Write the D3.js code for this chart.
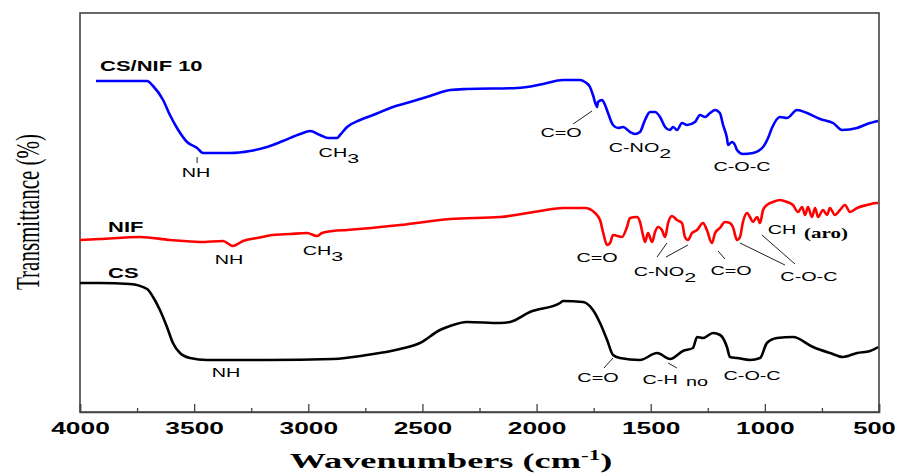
<!DOCTYPE html>
<html>
<head>
<meta charset="utf-8">
<script src="https://cdn.jsdelivr.net/npm/d3@7"></script>
<style>
  body { margin: 0; background: #fff; }
  text { fill: #000; }
</style>
</head>
<body>
<div id="chart"></div>
<script>
// CS/NIF 10 (blue)
var blendWn = [3930,3706,3680,3636,3606,3575,3531,3487,3461,3343,3255,3181,3111,3036,2992,2949,2914,2874,2861,2830,2773,2716,2629,2554,2467,2379,2305,2086,1972,1884,1810,1788,1766,1753,1735,1731,1713,1700,1687,1665,1643,1621,1591,1569,1547,1525,1503,1481,1459,1437,1416,1402,1385,1363,1341,1306,1284,1262,1240,1218,1197,1183,1166,1161,1144,1131,1122,1096,1052,1008,986,969,934,903,859,815,758,701,662,596,552,504];
var blendT = [331,331,326,312,297,284,270,264,259,259,261,265,271,278,281,277,274,274,277,285,292,297,305,310,316,322,323,324,328,332,332,330,325,317,305,310,312,307,299,287,284,285,280,278,280,292,300,300,295,285,282,285,282,289,287,290,297,295,299,302,299,287,274,267,270,267,262,258,259,265,274,284,295,294,302,299,293,289,282,284,288,291];

// NIF (red)
var nifWn = [4000,3912,3737,3606,3474,3374,3330,3286,3225,3155,3080,3006,2962,2940,2892,2830,2598,2379,2160,1985,1884,1788,1744,1722,1709,1691,1678,1665,1626,1604,1591,1560,1547,1534,1525,1512,1494,1481,1468,1451,1437,1424,1407,1385,1363,1350,1337,1319,1297,1271,1254,1232,1218,1197,1175,1153,1140,1122,1109,1096,1078,1065,1052,1034,1021,1008,991,964,934,903,877,855,837,824,811,794,780,767,745,728,715,693,671,649,627,596,553,509,504];
var nifT = [172,173,175,172,170,171,166,171,174,177,178,179,176,179,181,182,187,193,195,201,204,204,199,192,180,167,169,177,175,185,194,195,190,177,170,179,170,180,185,182,175,189,196,192,189,175,172,179,182,189,182,169,179,184,190,189,185,172,175,190,199,195,190,195,189,202,207,210,212,210,207,200,205,197,205,195,204,195,202,197,204,197,202,207,200,204,207,209,209];

// CS (black)
var csWn = [4000,3912,3781,3706,3680,3650,3619,3593,3562,3518,3444,3181,2892,2743,2598,2511,2423,2379,2305,2160,2116,2029,1897,1884,1797,1753,1722,1691,1665,1635,1547,1472,1415,1359,1315,1297,1271,1227,1196,1166,1153,1122,1065,1021,991,947,877,789,715,658,596,539,504];
var csT = [129,129,128,123,115,102,85,69,59,54,52,52,53,57,63,69,82,86,90,89,90,100,109,111,110,102,89,72,57,54,52,59,53,61,64,75,74,79,77,65,55,54,52,54,69,74,75,65,59,55,59,61,65];

var majorTicks = [4000,3500,3000,2500,2000,1500,1000,500];
var minorTicks = [3750,3250,2750,2250,1750,1250,750];

// series names: [label, wn, T]
var seriesLabels = [["CS/NIF 10",3912,346],["NIF",3877,185],["CS",3877,139]];

// peak assignments: [text, wn, T]  ("_" = subscript)
var blendNotes = [["NH",3492,239],["CH_3",2866,259],["C=O",1893,279],["C-NO_2",1547,264],["C-O-C",1100,245]];
var nifNotes = [["NH",3347,152],["CH_3",2936,161],["C=O",1735,154],["C-NO_2",1438,140],["C=O",1148,141],["C-O-C",807,135],["CH",925,182]];
var csNotes = [["NH",3360,39],["C=O",1731,34],["C-H",1459,32],["no",1297,30],["C-O-C",1056,36]];

var leaders = [
  [3487,255,3487,249],[1840,288,1757,301],
  [1472,155,1429,169],[1433,155,1337,167],[1175,153,1205,161],[1109,169,912,147],[1013,177,868,148],
  [1705,44,1665,54],[1424,49,1385,44]
];

var width = 897, height = 473;
var svg = d3.select("#chart").append("svg")
  .attr("width", width).attr("height", height);

var x = d3.scaleLinear().domain([4000, 500]).range([80, 879]);
var y = d3.scaleLinear().domain([0, 400]).range([412, 12]);

// frame
svg.append("rect")
  .attr("x", 80).attr("y", 13).attr("width", 799).attr("height", 399)
  .attr("fill", "none").attr("stroke", "#444").attr("stroke-width", 1.6);

// spectra
var line = d3.line()
  .x(function (d) { return x(d[0]); })
  .y(function (d) { return y(d[1]); })
  .curve(d3.curveMonotoneX);
[[csWn, csT, "#000"], [nifWn, nifT, "#ff0000"], [blendWn, blendT, "#0000ff"]].forEach(function (s) {
  var pts = d3.zip(s[0], s[1]).sort(function (a, b) { return a[0] - b[0]; });
  svg.append("path")
    .datum(pts)
    .attr("d", line)
    .attr("fill", "none")
    .attr("stroke", s[2])
    .attr("stroke-width", 2.6)
    .attr("stroke-linejoin", "round");
});

// x axis
var xAxis = svg.append("g").attr("transform", "translate(0,412)")
  .call(d3.axisBottom(x).tickValues(majorTicks).tickSize(-8).tickPadding(10).tickFormat(d3.format("d")));
xAxis.select(".domain").attr("stroke", "#444").attr("stroke-width", 1.6);
xAxis.selectAll(".tick line").attr("stroke", "#444").attr("stroke-width", 1.3);
xAxis.selectAll("text")
  .attr("transform", function (d) { return d === 500 ? "translate(-5,0) scale(1.5,1)" : "scale(1.55,1)"; })
  .style("font-family", "'Liberation Sans', Arial, sans-serif")
  .style("font-size", "17px")
  .style("font-weight", "bold")
  .attr("fill", "#000");

var xMinor = svg.append("g").attr("transform", "translate(0,412)")
  .call(d3.axisBottom(x).tickValues(minorTicks).tickSize(-4).tickFormat(""));
xMinor.select(".domain").remove();
xMinor.selectAll(".tick line").attr("stroke", "#444").attr("stroke-width", 1.3);

// axis titles
var xt = svg.append("text")
  .attr("transform", "translate(451,468) scale(1.65,1)")
  .attr("text-anchor", "middle")
  .style("font-family", "'Liberation Serif', 'Times New Roman', serif")
  .style("font-size", "22px")
  .style("font-weight", "bold");
xt.append("tspan").text("Wavenumbers (cm");
xt.append("tspan").attr("dy", -8).style("font-size", "14px").text("-1");
xt.append("tspan").attr("dy", 8).text(")");

svg.append("text")
  .attr("transform", "translate(27,212) scale(1.6,1) rotate(-90)")
  .attr("text-anchor", "middle")
  .attr("dy", "0.35em")
  .style("font-family", "'Liberation Serif', 'Times New Roman', serif")
  .style("font-size", "21px")
  .text("Transmittance (%)");

// series labels
seriesLabels.forEach(function (d) {
  svg.append("text")
    .attr("transform", "translate(" + x(d[1]) + "," + y(d[2]) + ") scale(1.57,1)")
    .attr("dy", "0.36em")
    .style("font-family", "'Liberation Sans', Arial, sans-serif")
    .style("font-size", "14px")
    .style("font-weight", "bold")
    .text(d[0]);
});

// peak notes
function note(d) {
  var parts = d[0].split("_");
  var t = svg.append("text")
    .attr("transform", "translate(" + x(d[1]) + "," + y(d[2]) + ") scale(1.65,1)")
    .attr("text-anchor", "middle")
    .attr("dy", "0.36em")
    .style("font-family", "'Liberation Sans', Arial, sans-serif")
    .style("font-size", "12px");
  t.append("tspan").text(parts[0]);
  if (parts[1]) t.append("tspan").attr("dy", 6).style("font-size", "13px").text(parts[1]);
}
blendNotes.forEach(note);
nifNotes.forEach(note);
csNotes.forEach(note);

svg.append("text")
  .attr("transform", "translate(" + x(732) + "," + y(179) + ") scale(1.5,1)")
  .attr("text-anchor", "middle")
  .attr("dy", "0.36em")
  .style("font-family", "'Liberation Serif', 'Times New Roman', serif")
  .style("font-size", "14px")
  .style("font-weight", "bold")
  .text("(aro)");

svg.selectAll(".leader")
  .data(leaders)
  .enter()
  .append("line")
    .attr("class", "leader")
    .attr("x1", function (d) { return x(d[0]); })
    .attr("y1", function (d) { return y(d[1]); })
    .attr("x2", function (d) { return x(d[2]); })
    .attr("y2", function (d) { return y(d[3]); })
    .attr("stroke", "#222")
    .attr("stroke-width", 1);
</script>
</body>
</html>
